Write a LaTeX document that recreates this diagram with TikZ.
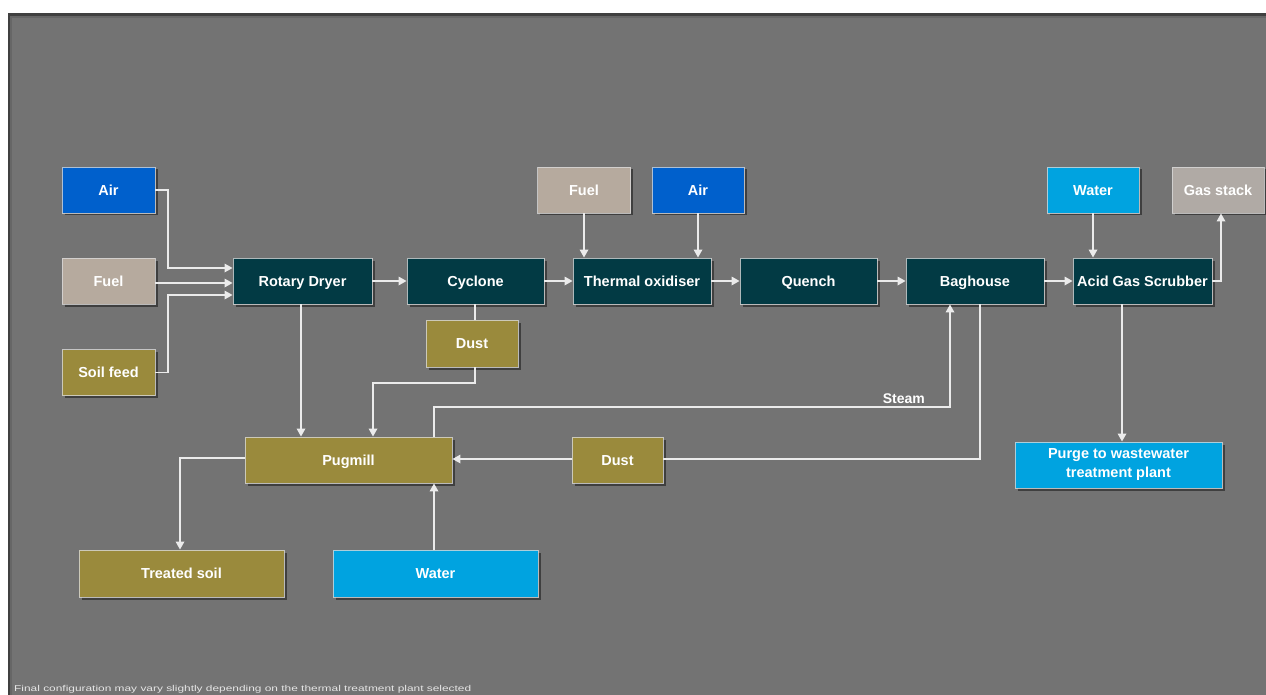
\documentclass[tikz,border=0pt]{standalone}
\usepackage{fontspec}
\setmainfont{Liberation Sans}
\newfontfamily\footfont{Liberation Sans}[FakeStretch=1.4]
\usetikzlibrary{arrows.meta,shadows,calc}
\definecolor{bggray}{RGB}{115,115,115}
\definecolor{teal}{RGB}{2,58,68}
\definecolor{airblue}{RGB}{0,96,204}
\definecolor{waterblue}{RGB}{0,163,224}
\definecolor{fuelbeige}{RGB}{182,170,158}
\definecolor{olive}{RGB}{154,138,60}
\definecolor{stackgray}{RGB}{176,170,165}
\definecolor{linewhite}{RGB}{235,235,235}
\tikzset{
  box/.style={draw=white!85!black, draw opacity=0.8, line width=0.9pt, inner sep=0pt,
    text=white, font=\fontsize{14.5}{19}\selectfont\bfseries, align=center,
    text height=10.5pt, text depth=0pt,
    drop shadow={shadow xshift=2.5pt, shadow yshift=-2.5pt, opacity=0.45, fill=black}},
  wide/.style={box, minimum width=139pt, minimum height=46pt},
  small/.style={box, minimum width=93pt, minimum height=46pt},
  long/.style={box, minimum width=206pt, minimum height=46pt},
  conn/.style={draw=linewhite, line width=1.7pt},
  arr/.style={conn, -{Triangle[width=8.5pt,length=8pt]}},
}
\begin{document}
\begin{tikzpicture}[x=1pt,y=-1pt]
\useasboundingbox (0,0) rectangle (1266,695);
\fill[white] (0,0) rectangle (1266,695);
\fill[bggray] (8,13) rectangle (1266,695);
\fill[black!75] (8,13) rectangle (1266,16);
\fill[black!60] (8,16) rectangle (1266,18);
\fill[black!75] (8,13) rectangle (10,695);
\fill[black!60] (10,16) rectangle (12,695);

% input / main row
\node[small, fill=airblue] (air1) at (108.5,190) {Air};
\node[small, fill=fuelbeige] (fuel1) at (108.5,281) {Fuel};
\node[small, fill=olive] (soil) at (108.5,372.5) {Soil feed};
\node[wide, fill=teal] (rd) at (302.5,281) {Rotary Dryer};
\node[wide, fill=teal, minimum width=137pt] (cyc) at (475.5,281) {Cyclone};
\node[wide, fill=teal, minimum width=138pt] (to) at (642,281) {Thermal oxidiser};
\node[wide, fill=teal, minimum width=137pt] (qu) at (808.5,281) {Quench};
\node[wide, fill=teal, minimum width=138pt] (bh) at (975,281) {Baghouse};
\node[wide, fill=teal] (ags) at (1142.5,281) {Acid Gas Scrubber};
\node[small, fill=fuelbeige] (fuel2) at (584,190) {Fuel};
\node[small, fill=airblue, minimum width=92pt] (air2) at (698,190) {Air};
\node[small, fill=waterblue, minimum width=92pt] (water1) at (1093,190) {Water};
\node[small, fill=stackgray, minimum width=92pt] (gas) at (1218,190) {Gas stack};
\node[small, fill=olive, minimum width=92pt, minimum height=47pt] (dust1) at (472,343.5) {Dust};
\node[small, fill=olive, minimum width=91pt] (dust2) at (617.5,460) {Dust};
\node[long, fill=olive, minimum width=207pt] (pug) at (348.5,460) {Pugmill};
\node[long, fill=olive, minimum width=205pt, minimum height=47pt] (treated) at (181.5,573.5) {Treated soil};
\node[long, fill=waterblue, minimum width=205pt, minimum height=47pt] (water2) at (435.5,573.5) {Water};
\node[long, fill=waterblue, minimum width=207pt, text height=, text depth=] (purge) at (1118.5,465) {Purge to wastewater\\treatment plant};

% helper coordinates
\coordinate (ja) at (168,268);
\coordinate (jf) at (0,283);
\coordinate (js) at (168,295);
\coordinate (jg) at (1221,281);
\coordinate (xp) at (1122,0);
\coordinate (xc) at (475,0);
\coordinate (jd) at (475,383);
\coordinate (xd) at (373,0);
\coordinate (xr) at (301,0);
\coordinate (xs) at (434,0);
\coordinate (js1) at (434,407);
\coordinate (js2) at (950,407);
\coordinate (jb) at (980,459);
\coordinate (jt) at (180,458);

% connectors
\draw[arr] (air1.east) -| (ja) -- (ja -| rd.west);
\draw[arr] (fuel1.east |- jf) -- (rd.west |- jf);
\draw[arr] (soil.east) -| (js) -- (js -| rd.west);
\draw[arr] (rd) -- (cyc);
\draw[arr] (cyc) -- (to);
\draw[arr] (to) -- (qu);
\draw[arr] (qu) -- (bh);
\draw[arr] (bh) -- (ags);
\draw[arr] (fuel2) -- (fuel2 |- to.north);
\draw[arr] (air2) -- (air2 |- to.north);
\draw[arr] (water1) -- (water1 |- ags.north);
\draw[arr] (ags.east) -- (jg) -- (jg |- gas.south);
\draw[arr] (ags.south -| xp) -- (purge.north -| xp);
\draw[conn] (cyc.south -| xc) -- (dust1.north -| xc);
\draw[arr] (dust1.south -| xc) -- (jd) -| (pug.north -| xd);
\draw[arr] (rd.south -| xr) -- (pug.north -| xr);
\draw[arr] (pug.north -| xs) -- (js1) -- (js2) -- (bh.south -| js2);
\node[text=white, font=\fontsize{14}{16}\selectfont\bfseries, anchor=south east, inner sep=0pt] (steam) at (925,404) {Steam};
\draw[conn] (bh.south -| jb) -- (jb) -- (dust2.east |- jb);
\draw[arr] (dust2.west |- jb) -- (pug.east |- jb);
\draw[arr] (pug.west |- jt) -- (jt) -- (treated.north -| jt);
\draw[arr] (water2.north -| xs) -- (pug.south -| xs);

\node[anchor=base west, inner sep=0pt, text=white!90!black, font=\footfont\fontsize{8.5}{10}\selectfont] (foot) at (14,691) {Final configuration may vary slightly depending on the thermal treatment plant selected};
\end{tikzpicture}
\end{document}
